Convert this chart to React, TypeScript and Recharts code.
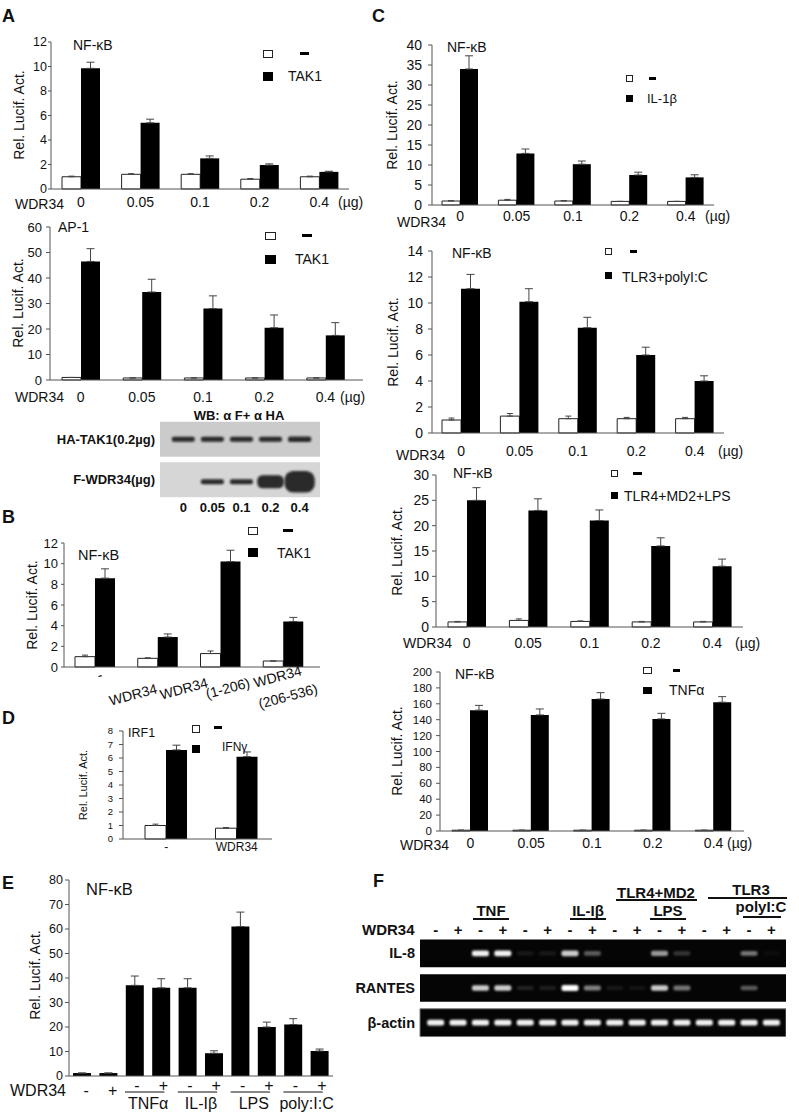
import React from 'react';
import { BarChart, Bar, XAxis, YAxis, ErrorBar, ScatterChart, Scatter, ReferenceArea } from 'recharts';

const FONT = '"Liberation Sans", Arial, Helvetica, sans-serif';

// ---- A: luciferase, TAK1 +/- WDR34 dose
const doses = ['0', '0.05', '0.1', '0.2', '0.4'];

const aNfkbCtrl = [1.0, 1.2, 1.2, 0.8, 1.0];
const aNfkbCtrlErr = [0.05, 0.05, 0.05, 0.05, 0.05];
const aNfkbTak1 = [9.85, 5.4, 2.5, 1.95, 1.4];
const aNfkbTak1Err = [0.5, 0.3, 0.2, 0.1, 0.05];
const aNfkbTicks = [0, 2, 4, 6, 8, 10, 12];

const aAp1Ctrl = [1.0, 0.8, 0.8, 0.8, 0.8];
const aAp1CtrlErr = [0, 0, 0, 0, 0];
const aAp1Tak1 = [46.5, 34.5, 28, 20.5, 17.5];
const aAp1Tak1Err = [5, 5, 5, 5, 5];
const aAp1Ticks = [0, 10, 20, 30, 40, 50, 60];

// western blot (A)
const wbDoses = ['0', '0.05', '0.1', '0.2', '0.4'];
const wbRows = ['F-WDR34(µg)', 'HA-TAK1(0.2µg)'];
const haTak1Signal = [1, 1, 1, 1, 1.1];
const fWdr34Signal = [0, 1, 1, 2.2, 3.4];

// ---- B: WDR34 constructs
const bConstructs = ['-', 'WDR34', 'WDR34\n(1-206)', 'WDR34\n(206-536)'];
const bCtrl = [1.0, 0.84, 1.3, 0.58];
const bCtrlErr = [0.15, 0.05, 0.25, 0];
const bTak1 = [8.6, 2.9, 10.2, 4.4];
const bTak1Err = [0.9, 0.3, 1.1, 0.4];
const bTicks = [0, 2, 4, 6, 8, 10, 12];

// ---- C: other stimuli
const cIl1Ctrl = [1.0, 1.2, 1.0, 0.9, 0.9];
const cIl1CtrlErr = [0.1, 0.2, 0.1, 0, 0];
const cIl1Stim = [34, 12.9, 10.2, 7.5, 6.9];
const cIl1StimErr = [3.3, 1.1, 0.8, 0.7, 0.65];
const cIl1Ticks = [0, 5, 10, 15, 20, 25, 30, 35, 40];

const cTlr3Ctrl = [1.0, 1.3, 1.1, 1.1, 1.1];
const cTlr3CtrlErr = [0.15, 0.2, 0.2, 0.1, 0.1];
const cTlr3Stim = [11.1, 10.1, 8.1, 6.0, 4.0];
const cTlr3StimErr = [1.1, 1.0, 0.8, 0.6, 0.4];
const cTlr3Ticks = [0, 2, 4, 6, 8, 10, 12, 14];

const cTlr4Ctrl = [1.0, 1.3, 1.1, 1.0, 1.0];
const cTlr4CtrlErr = [0.1, 0.3, 0.1, 0.1, 0.1];
const cTlr4Stim = [25, 23, 21, 16, 12];
const cTlr4StimErr = [2.5, 2.3, 2.1, 1.6, 1.4];
const cTlr4Ticks = [0, 5, 10, 15, 20, 25, 30];

const cTnfCtrl = [1, 1, 1, 1, 1];
const cTnfCtrlErr = [0, 0, 0, 0, 0];
const cTnfStim = [152, 146, 166, 141, 162];
const cTnfStimErr = [6, 7.5, 8, 7, 7];
const cTnfTicks = [0, 20, 40, 60, 80, 100, 120, 140, 160, 180, 200];

// ---- D: IRF1 / IFNg
const dCats = ['-', 'WDR34'];
const dCtrl = [1.0, 0.8];
const dCtrlErr = [0.1, 0.05];
const dIfn = [6.6, 6.1];
const dIfnErr = [0.35, 0.35];
const dTicks = [0, 1, 2, 3, 4, 5, 6, 7, 8];

// ---- E: NF-kB, stimuli +/- WDR34
const eStim = ['', '', 'TNFα', 'TNFα', 'IL-Iβ', 'IL-Iβ', 'LPS', 'LPS', 'poly:I:C', 'poly:I:C'];
const eWdr = ['-', '+', '-', '+', '-', '+', '-', '+', '-', '+'];
const eValues = [1.2, 1.2, 37, 36, 36, 9.3, 61, 20, 21, 10.2];
const eErr = [0, 0, 3.8, 3.7, 3.7, 1.0, 5.9, 2.0, 2.4, 0.8];
const eTicks = [0, 10, 20, 30, 40, 50, 60, 70, 80];

// ---- F: RT-PCR gel
const fWdr = ['-', '+', '-', '+', '-', '+', '-', '+', '-', '+', '-', '+', '-', '+', '-', '+'];
const fRows = ['β-actin', 'RANTES', 'IL-8'];
const il8Bands = [0, 0, 0.95, 0.95, 0.08, 0.08, 0.8, 0.35, 0, 0, 0.6, 0.2, 0, 0, 0.45, 0.03];
const rantesBands = [0, 0, 0.8, 0.8, 0.12, 0.1, 1, 0.5, 0.08, 0.06, 0.8, 0.45, 0, 0, 0.35, 0];
const actinBands = [0.95, 0.95, 0.95, 0.95, 0.95, 0.95, 0.95, 0.95, 0.95, 0.95, 0.95, 0.95, 0.95, 0.95, 0.95, 0.95];

type Row = { cat: string; ctrl?: number; ctrlErr?: number[]; stim: number; stimErr: number[] };

const rowsOf = (cats: string[], ctrl: number[] | null, ctrlErr: number[] | null, stim: number[], stimErr: number[]): Row[] =>
  cats.map((cat, i) => ({
    cat,
    ctrl: ctrl ? ctrl[i] : undefined,
    ctrlErr: ctrlErr ? [0, ctrlErr[i]] : undefined,
    stim: stim[i],
    stimErr: [0, stimErr[i]],
  }));

const eCats = eStim.map((s, i) => `${s}|${eWdr[i]}|${i}`);

const bandRows = (signals: number[], row: number) => signals.map((signal, i) => ({ lane: i + 1, row, signal }));

// ---------- small layout helpers
const Txt = ({ x, y, s = 14, bold = false, anchor = 'start', rotate = false, children }: any) => {
  const tx = anchor === 'middle' ? '-50%' : anchor === 'end' ? '-100%' : '0';
  return (
    <div
      style={{
        position: 'absolute',
        left: x,
        top: y,
        fontSize: s,
        fontWeight: bold ? 'bold' : 'normal',
        lineHeight: 1,
        whiteSpace: 'nowrap',
        color: '#111',
        transform: rotate ? 'translate(-50%, -50%) rotate(-90deg)' : `translate(${tx}, -50%)`,
      }}
    >
      {children}
    </div>
  );
};

const Box = ({ x, y, w, h, filled = false }: any) => (
  <div
    style={{
      position: 'absolute',
      left: x,
      top: y,
      width: w,
      height: h,
      boxSizing: 'border-box',
      background: filled ? '#000' : '#fff',
      border: filled ? 'none' : '1px solid #222',
    }}
  />
);

const Legend2 = ({ sq, dash, blk, text, tx, ty, fs = 14 }: any) => (
  <>
    <Box x={sq[0]} y={sq[1]} w={sq[2]} h={sq[3]} />
    <Box x={dash[0]} y={dash[1]} w={dash[2]} h={3} filled />
    <Box x={blk[0]} y={blk[1]} w={blk[2]} h={blk[3]} filled />
    <Txt x={tx} y={ty} s={fs}>{text}</Txt>
  </>
);

// ---------- bar chart panel
const YW = 44;
const MT = 10;
const MR = 4;

const BarPanel = ({
  plot, rows, yTicks, barSize, yFs, yTickSize, yTickMargin,
  xFs = 14, xMargin = 6, padL = 0, padR = 0, xh = 30, tick, hasCtrl = true,
}: any) => {
  const [x0, y0, x1, y1] = plot;
  const w = YW + (x1 - x0) + MR;
  const h = MT + (y1 - y0) + xh;
  return (
    <div style={{ position: 'absolute', left: x0 - YW, top: y0 - MT }}>
      <BarChart width={w} height={h} data={rows} margin={{ top: MT, right: MR, bottom: 0, left: 0 }} barGap={0}>
        <XAxis
          dataKey="cat"
          interval={0}
          tickLine={false}
          tickSize={0}
          tickMargin={xMargin}
          axisLine={{ stroke: '#555' }}
          height={xh}
          padding={{ left: padL, right: padR }}
          tick={tick ?? { fontSize: xFs, fill: '#111' }}
        />
        <YAxis
          width={YW}
          domain={[0, yTicks[yTicks.length - 1]]}
          ticks={yTicks}
          interval={0}
          tickSize={yTickSize}
          tickMargin={yTickMargin}
          axisLine={{ stroke: '#555' }}
          tickLine={{ stroke: '#555' }}
          tick={{ fontSize: yFs, fill: '#111' }}
        />
        {hasCtrl && (
          <Bar dataKey="ctrl" fill="#fff" stroke="#222" strokeWidth={1} barSize={barSize} isAnimationActive={false}>
            <ErrorBar dataKey="ctrlErr" width={3} stroke="#444" strokeWidth={1} direction="y" />
          </Bar>
        )}
        <Bar dataKey="stim" fill="#000" barSize={barSize} isAnimationActive={false}>
          <ErrorBar dataKey="stimErr" width={4} stroke="#444" strokeWidth={1} direction="y" />
        </Bar>
      </BarChart>
    </div>
  );
};

// rotated labels under panel B
const bLabelPos = [[[8, 12]], [[0, 26]], [[-12, 20], [30, 20]], [[19, 8], [35, 26]]];
const BTick = ({ x, y, index, payload }: any) => {
  const lines = String(payload.value).split('\n');
  return (
    <g>
      {lines.map((t, j) => {
        const [dx, dy] = bLabelPos[index][j];
        const px = x + dx;
        const py = y + dy;
        return (
          <text key={j} x={px} y={py} transform={`rotate(-15 ${px} ${py})`} textAnchor="end" fontSize={14} fill="#111">
            {t}
          </text>
        );
      })}
    </g>
  );
};

// +/- signs and grouped stimulus names under panel E
const E_BAND = (333 - 69) / eValues.length;
const ETick = ({ x, y, index }: any) => {
  const grp = eStim[index];
  const paired = grp !== '';
  return (
    <g>
      <text x={x + (paired ? 2 : 4)} y={y + (paired ? 9 : 14)} dy="0.35em" textAnchor="middle" fontSize={16} fill="#111">
        {eWdr[index]}
      </text>
      {paired && index % 2 === 0 && (
        <>
          <line x1={x - 10} x2={x + E_BAND + 3} y1={y + 16} y2={y + 16} stroke="#111" strokeWidth={1} />
          <text x={x + E_BAND / 2} y={y + 27} dy="0.35em" textAnchor="middle" fontSize={16} fill="#111">
            {grp}
          </text>
        </>
      )}
    </g>
  );
};

// ---------- blot / gel band shapes
const BlotBand = (p: any) => {
  const s = p.payload.signal;
  if (!s) return <g />;
  const w = 20 + 3 * s;
  const h = 5 * Math.pow(s, 1.2);
  const yOff = p.payload.row < 1 ? 2 : 0;
  return (
    <rect x={p.cx - w / 2} y={p.cy - h / 2 + yOff} width={w} height={h} rx={h / 2.5} fill="#151515" fillOpacity={0.9} filter="url(#blotBlur)" />
  );
};

const GelBand = (p: any) => {
  const s = p.payload.signal;
  if (!s) return <g />;
  const w = 17;
  const h = 4 + 2 * s;
  return <rect x={p.cx - w / 2} y={p.cy - h / 2} width={w} height={h} rx={2} fill="#fff" fillOpacity={Math.min(1, s)} filter="url(#gelBlur)" />;
};

const WesternBlot = () => {
  const yw = 150;
  return (
    <div style={{ position: 'absolute', left: 160 - yw, top: 419 }}>
      <ScatterChart width={yw + 160} height={81 + 18} margin={{ top: 0, right: 0, bottom: 0, left: 0 }}>
        <XAxis
          type="number"
          dataKey="lane"
          domain={[0.2, 5.7]}
          ticks={[1, 2, 3, 4, 5]}
          tickFormatter={(v: number) => wbDoses[v - 1]}
          axisLine={false}
          tickLine={false}
          tickSize={0}
          tickMargin={3}
          height={18}
          tick={{ fontSize: 13, fontWeight: 'bold', fill: '#111' }}
        />
        <YAxis
          type="number"
          dataKey="row"
          domain={[0, 2]}
          ticks={[0.5, 1.5]}
          tickFormatter={(v: number) => wbRows[Math.floor(v)]}
          axisLine={false}
          tickLine={false}
          tickSize={0}
          tickMargin={5}
          width={yw}
          tick={{ fontSize: 13, fontWeight: 'bold', fill: '#111' }}
        />
        <ReferenceArea x1={0.2} x2={5.7} y1={1.07} y2={1.93} fill="#cbcbcb" fillOpacity={1} stroke="none" />
        <ReferenceArea x1={0.2} x2={5.7} y1={0.07} y2={0.93} fill="#d6d6d6" fillOpacity={1} stroke="none" />
        <Scatter data={bandRows(haTak1Signal, 1.5)} shape={BlotBand} isAnimationActive={false} />
        <Scatter data={bandRows(fWdr34Signal, 0.5)} shape={BlotBand} isAnimationActive={false} />
      </ScatterChart>
    </div>
  );
};

const Gel = () => {
  const yw = 70;
  const xh = 20;
  return (
    <div style={{ position: 'absolute', left: 420 - yw, top: 936 - xh }}>
      <ScatterChart width={yw + 366} height={xh + 104} margin={{ top: 0, right: 0, bottom: 0, left: 0 }}>
        <XAxis
          type="number"
          dataKey="lane"
          orientation="top"
          domain={[0.3, 16.65]}
          ticks={[1, 2, 3, 4, 5, 6, 7, 8, 9, 10, 11, 12, 13, 14, 15, 16]}
          interval={0}
          tickFormatter={(v: number) => fWdr[v - 1]}
          axisLine={false}
          tickLine={false}
          tickSize={0}
          tickMargin={1}
          height={xh}
          tick={{ fontSize: 15, fontWeight: 'bold', fill: '#111' }}
        />
        <YAxis
          type="number"
          dataKey="row"
          domain={[0, 3]}
          ticks={[0.5, 1.5, 2.5]}
          tickFormatter={(v: number) => fRows[Math.floor(v)]}
          axisLine={false}
          tickLine={false}
          tickSize={0}
          tickMargin={5}
          width={yw}
          tick={{ fontSize: 14.5, fontWeight: 'bold', fill: '#111' }}
        />
        <ReferenceArea x1={0.3} x2={16.65} y1={2.1} y2={2.9} fill="#050505" fillOpacity={1} stroke="none" />
        <ReferenceArea x1={0.3} x2={16.65} y1={1.1} y2={1.9} fill="#050505" fillOpacity={1} stroke="none" />
        <ReferenceArea x1={0.3} x2={16.65} y1={0.1} y2={0.9} fill="#050505" fillOpacity={1} stroke="#777" />
        <Scatter data={bandRows(il8Bands, 2.5)} shape={GelBand} isAnimationActive={false} />
        <Scatter data={bandRows(rantesBands, 1.5)} shape={GelBand} isAnimationActive={false} />
        <Scatter data={bandRows(actinBands, 0.5)} shape={GelBand} isAnimationActive={false} />
      </ScatterChart>
    </div>
  );
};

const Uline = ({ x1, x2, y }: any) => (
  <div style={{ position: 'absolute', left: x1, top: y, width: x2 - x1, height: 2, background: '#111' }} />
);

const App: React.FC = () => {
  return (
    <div
      style={{
        position: 'absolute',
        left: 0,
        top: 0,
        width: 799,
        height: 1114,
        background: '#fff',
        overflow: 'hidden',
        fontFamily: FONT,
      }}
    >
      <svg width={0} height={0} style={{ position: 'absolute' }}>
        <defs>
          <filter id="blotBlur" x="-30%" y="-60%" width="160%" height="220%">
            <feGaussianBlur stdDeviation="0.9" />
          </filter>
          <filter id="gelBlur" x="-30%" y="-80%" width="160%" height="260%">
            <feGaussianBlur stdDeviation="0.8" />
          </filter>
        </defs>
      </svg>

      {/* panel letters */}
      <Txt x={2} y={16} s={18} bold>A</Txt>
      <Txt x={2} y={517} s={18} bold>B</Txt>
      <Txt x={372} y={16} s={18} bold>C</Txt>
      <Txt x={2} y={718} s={18} bold>D</Txt>
      <Txt x={2} y={883} s={18} bold>E</Txt>
      <Txt x={373} y={881} s={18} bold>F</Txt>

      {/* A – NF-kB */}
      <BarPanel
        plot={[51, 42, 349, 189]}
        rows={rowsOf(doses, aNfkbCtrl, aNfkbCtrlErr, aNfkbTak1, aNfkbTak1Err)}
        yTicks={aNfkbTicks}
        barSize={19}
        yFs={12.5}
        yTickSize={3}
        yTickMargin={1}
        xMargin={8}
      />
      <Txt x={19} y={115} rotate>Rel. Lucif. Act.</Txt>
      <Txt x={73} y={45}>NF-κB</Txt>
      <Legend2 sq={[263, 50, 10, 8]} dash={[300, 52, 9]} blk={[263, 72, 10, 9]} text="TAK1" tx={288} ty={76} />
      <Txt x={15} y={204}>WDR34</Txt>
      <Txt x={338} y={202}>(µg)</Txt>

      {/* A – AP-1 */}
      <BarPanel
        plot={[50, 227, 363, 380]}
        padR={7}
        rows={rowsOf(doses, aAp1Ctrl, aAp1CtrlErr, aAp1Tak1, aAp1Tak1Err)}
        yTicks={aAp1Ticks}
        barSize={19}
        yFs={13}
        yTickSize={4}
        yTickMargin={4}
        xMargin={12}
      />
      <Txt x={18} y={303} rotate>Rel. Lucif. Act.</Txt>
      <Txt x={58} y={227}>AP-1</Txt>
      <Legend2 sq={[265, 232, 11, 8]} dash={[302, 234, 10]} blk={[265, 255, 11, 9]} text="TAK1" tx={295} ty={259} />
      <Txt x={15} y={397}>WDR34</Txt>
      <Txt x={340} y={397}>(µg)</Txt>

      {/* A – western blot */}
      <Txt x={239} y={415} s={13} bold anchor="middle">WB: α F+ α HA</Txt>
      <WesternBlot />

      {/* B */}
      <BarPanel
        plot={[64, 543, 320, 667]}
        padR={5}
        rows={rowsOf(bConstructs, bCtrl, bCtrlErr, bTak1, bTak1Err)}
        yTicks={bTicks}
        barSize={20}
        yFs={13}
        yTickSize={3}
        yTickMargin={3}
        xMargin={0}
        xh={50}
        tick={BTick}
      />
      <Txt x={32} y={605} rotate>Rel. Lucif. Act.</Txt>
      <Txt x={78} y={555} s={14.5}>NF-κB</Txt>
      <Legend2 sq={[248, 527, 10, 8]} dash={[283, 529, 10]} blk={[248, 548, 10, 9]} text="TAK1" tx={277} ty={553} />

      {/* C – IL-1b */}
      <BarPanel
        plot={[432, 45, 714, 205]}
        rows={rowsOf(doses, cIl1Ctrl, cIl1CtrlErr, cIl1Stim, cIl1StimErr)}
        yTicks={cIl1Ticks}
        barSize={18}
        yFs={14}
        yTickSize={4}
        yTickMargin={6}
        xMargin={6}
      />
      <Txt x={392} y={125} rotate>Rel. Lucif. Act.</Txt>
      <Txt x={447} y={47}>NF-κB</Txt>
      <Legend2 sq={[626, 75, 7, 7]} dash={[649, 77, 7]} blk={[626, 95, 7, 7]} text="IL-1β" tx={647} ty={98} fs={13} />
      <Txt x={397} y={222}>WDR34</Txt>
      <Txt x={705} y={216}>(µg)</Txt>

      {/* C – TLR3 */}
      <BarPanel
        plot={[432, 251, 724, 433]}
        rows={rowsOf(doses, cTlr3Ctrl, cTlr3CtrlErr, cTlr3Stim, cTlr3StimErr)}
        yTicks={cTlr3Ticks}
        barSize={19}
        yFs={14}
        yTickSize={4}
        yTickMargin={5}
        xMargin={13}
      />
      <Txt x={393} y={342} rotate>Rel. Lucif. Act.</Txt>
      <Txt x={452} y={253}>NF-κB</Txt>
      <Legend2 sq={[605, 248, 7, 7]} dash={[630, 250, 7]} blk={[605, 272, 7, 7]} text="TLR3+polyI:C" tx={622} ty={277} />
      <Txt x={396} y={455}>WDR34</Txt>
      <Txt x={718} y={451}>(µg)</Txt>

      {/* C – TLR4 */}
      <BarPanel
        plot={[436, 475, 743, 627]}
        rows={rowsOf(doses, cTlr4Ctrl, cTlr4CtrlErr, cTlr4Stim, cTlr4StimErr)}
        yTicks={cTlr4Ticks}
        barSize={19}
        yFs={14}
        yTickSize={4}
        yTickMargin={3}
        xMargin={11}
      />
      <Txt x={397} y={551} rotate>Rel. Lucif. Act.</Txt>
      <Txt x={453} y={473}>NF-κB</Txt>
      <Legend2 sq={[611, 470, 7, 7]} dash={[633, 472, 9]} blk={[611, 492, 7, 7]} text="TLR4+MD2+LPS" tx={624} ty={496} />
      <Txt x={403} y={643}>WDR34</Txt>
      <Txt x={735} y={643}>(µg)</Txt>

      {/* C – TNFa */}
      <BarPanel
        plot={[440, 672, 744, 831]}
        rows={rowsOf(doses, cTnfCtrl, cTnfCtrlErr, cTnfStim, cTnfStimErr)}
        yTicks={cTnfTicks}
        barSize={18}
        yFs={11.5}
        yTickSize={4}
        yTickMargin={4}
        xMargin={7}
      />
      <Txt x={397} y={751} rotate>Rel. Lucif. Act.</Txt>
      <Txt x={455} y={674}>NF-κB</Txt>
      <Legend2 sq={[643, 667, 9, 7]} dash={[673, 669, 7]} blk={[643, 687, 9, 7]} text="TNFα" tx={669} ty={690} />
      <Txt x={400} y={845}>WDR34</Txt>
      <Txt x={727} y={843}>(µg)</Txt>

      {/* D */}
      <BarPanel
        plot={[123, 731, 272, 839]}
        padL={8}
        rows={rowsOf(dCats, dCtrl, dCtrlErr, dIfn, dIfnErr)}
        yTicks={dTicks}
        barSize={21}
        yFs={9.5}
        yTickSize={4}
        yTickMargin={6}
        xFs={12}
        xMargin={3}
        xh={24}
      />
      <Txt x={83} y={785} s={11} rotate>Rel. Lucif. Act.</Txt>
      <Txt x={128} y={733} s={12.5}>IRF1</Txt>
      <Legend2 sq={[192, 725, 8, 8]} dash={[214, 726, 8]} blk={[192, 745, 8, 8]} text="IFNγ" tx={222} ty={747} fs={12} />

      {/* E */}
      <BarPanel
        plot={[69, 880, 333, 1076]}
        rows={rowsOf(eCats, null, null, eValues, eErr)}
        hasCtrl={false}
        yTicks={eTicks}
        barSize={18}
        yFs={12.5}
        yTickSize={4}
        yTickMargin={2}
        xMargin={0}
        xh={36}
        tick={ETick}
      />
      <Txt x={35} y={975} rotate>Rel. Lucif. Act.</Txt>
      <Txt x={86} y={889} s={16.5}>NF-κB</Txt>
      <Txt x={10} y={1091} s={16}>WDR34</Txt>

      {/* F */}
      <Txt x={491} y={910} s={15} bold anchor="middle">TNF</Txt>
      <Uline x1={473} x2={509} y={918} />
      <Txt x={588} y={910} s={15} bold anchor="middle">IL-Iβ</Txt>
      <Uline x1={570} x2={606} y={918} />
      <Txt x={656} y={892} s={15} bold anchor="middle">TLR4+MD2</Txt>
      <Uline x1={616} x2={697} y={899} />
      <Txt x={668} y={910} s={15} bold anchor="middle">LPS</Txt>
      <Uline x1={650} x2={686} y={918} />
      <Txt x={751} y={889} s={15} bold anchor="middle">TLR3</Txt>
      <Uline x1={708} x2={787} y={897} />
      <Txt x={761} y={906} s={15} bold anchor="middle">polyI:C</Txt>
      <Uline x1={743} x2={781} y={916} />
      <Txt x={362} y={929} s={15} bold>WDR34</Txt>
      <Gel />
    </div>
  );
};

export default App;
